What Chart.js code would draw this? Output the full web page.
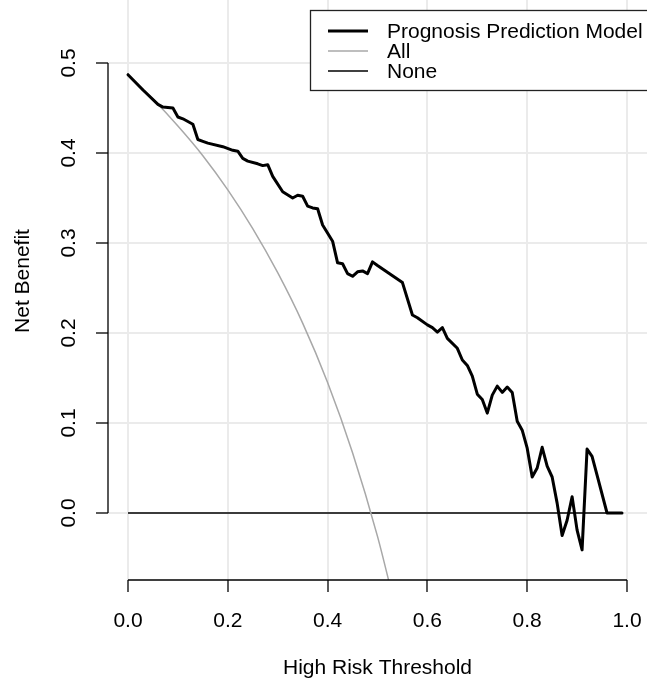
<!DOCTYPE html>
<html>
<head>
<meta charset="utf-8">
<script src="https://cdn.jsdelivr.net/npm/chart.js@4/dist/chart.umd.min.js"></script>
<style>
  html, body { margin: 0; padding: 0; background: #fff; overflow: hidden; }
  /* the R plot region starts a little above the picture */
  #dca { display: block; margin-top: -18px; }
</style>
</head>
<body>
<canvas id="dca" width="647" height="697"></canvas>
<script>
// decision curve, values
const modelThresholds = [0, 0.03, 0.06, 0.07, 0.09, 0.10, 0.11, 0.13, 0.14, 0.15,
    0.16, 0.19, 0.21, 0.22, 0.23, 0.24, 0.26, 0.27, 0.28, 0.29,
    0.31, 0.33, 0.34, 0.35, 0.36, 0.37, 0.38, 0.39, 0.41, 0.42,
    0.43, 0.44, 0.45, 0.46, 0.47, 0.48, 0.49, 0.50, 0.55, 0.57,
    0.58, 0.60, 0.61, 0.62, 0.63, 0.64, 0.66, 0.67, 0.68, 0.69,
    0.70, 0.71, 0.72, 0.73, 0.74, 0.75, 0.76, 0.77, 0.78, 0.79,
    0.80, 0.81, 0.82, 0.83, 0.84, 0.85, 0.86, 0.87, 0.88, 0.89,
    0.90, 0.91, 0.92, 0.93, 0.94, 0.96, 0.99];
const modelBenefit = [0.487, 0.470, 0.454, 0.451, 0.450, 0.440, 0.438, 0.432, 0.415, 0.413,
    0.411, 0.407, 0.403, 0.402, 0.394, 0.391, 0.388, 0.386, 0.387, 0.374,
    0.357, 0.350, 0.353, 0.352, 0.341, 0.339, 0.338, 0.320, 0.302, 0.278,
    0.277, 0.266, 0.263, 0.268, 0.269, 0.266, 0.279, 0.275, 0.256, 0.220,
    0.217, 0.209, 0.206, 0.201, 0.206, 0.194, 0.183, 0.170, 0.164, 0.152,
    0.132, 0.126, 0.111, 0.131, 0.141, 0.134, 0.140, 0.134, 0.102, 0.092,
    0.072, 0.040, 0.050, 0.073, 0.052, 0.040, 0.011, -0.025, -0.008, 0.018,
    -0.019, -0.041, 0.071, 0.063, 0.042, 0.000, 0.000];

const allThresholds = [0, 0.05, 0.10, 0.15, 0.20, 0.25, 0.30, 0.35, 0.40, 0.45, 0.50, 0.53];
const allBenefit = [0.487, 0.460, 0.430, 0.397, 0.359, 0.316, 0.267, 0.211, 0.145, 0.067, -0.026, -0.092];

const noneThresholds = [0, 0.99];
const noneBenefit = [0, 0];

const xTicks = [0, 0.2, 0.4, 0.6, 0.8, 1.0];
const yTicks = [0, 0.1, 0.2, 0.3, 0.4, 0.5];

const FONT = "'Liberation Sans', Arial, Helvetica, sans-serif";

function toPoints(xs, ys) {
    return xs.map((x, i) => ({ x: x, y: ys[i] }));
}

// no extra room for overflowing tick labels, the plot fills the canvas like R does
function noLabelPadding(s) {
    s.paddingTop = 0;
    s.paddingBottom = 0;
    s.paddingLeft = 0;
    s.paddingRight = 0;
}

// R style axis lines, only over the tick range
const axisLinePlugin = {
    id: 'axisLines',
    afterDraw(chart) {
        const { ctx, scales: { x, y } } = chart;
        ctx.save();
        ctx.strokeStyle = '#000';
        ctx.lineWidth = 1.3;
        ctx.beginPath();
        ctx.moveTo(x.getPixelForValue(xTicks[0]), y.bottom);
        ctx.lineTo(x.getPixelForValue(xTicks[xTicks.length - 1]), y.bottom);
        ctx.moveTo(x.left, y.getPixelForValue(yTicks[0]));
        ctx.lineTo(x.left, y.getPixelForValue(yTicks[yTicks.length - 1]));
        ctx.stroke();
        ctx.restore();
    }
};

// boxed legend in the top right corner
const boxLegendPlugin = {
    id: 'boxLegend',
    afterDraw(chart) {
        const ctx = chart.ctx;
        const left = 310, top = 28;
        ctx.save();
        ctx.fillStyle = '#fff';
        ctx.fillRect(left, top, 400, 81);
        ctx.strokeStyle = '#222';
        ctx.lineWidth = 1.3;
        ctx.strokeRect(left + 0.5, top + 0.5, 400, 80);
        ctx.font = '21px ' + FONT;
        ctx.textBaseline = 'middle';
        ctx.textAlign = 'left';
        chart.data.datasets.forEach((ds, i) => {
            const ly = top + 21 + i * 20;
            ctx.strokeStyle = ds.borderColor;
            ctx.lineWidth = ds.borderWidth;
            ctx.beginPath();
            ctx.moveTo(328, ly);
            ctx.lineTo(368, ly);
            ctx.stroke();
            ctx.fillStyle = '#000';
            ctx.fillText(ds.label, 387, ly + 1);
        });
        ctx.restore();
    }
};

new Chart(document.getElementById('dca'), {
    type: 'line',
    plugins: [axisLinePlugin, boxLegendPlugin],
    data: {
        datasets: [{
            label: 'Prognosis Prediction Model',
            data: toPoints(modelThresholds, modelBenefit),
            borderColor: '#000',
            borderWidth: 3,
            pointRadius: 0,
            borderJoinStyle: 'round',
            borderCapStyle: 'round'
        }, {
            label: 'All',
            data: toPoints(allThresholds, allBenefit),
            borderColor: '#a8a8a8',
            borderWidth: 1.5,
            pointRadius: 0,
            cubicInterpolationMode: 'monotone'
        }, {
            label: 'None',
            data: toPoints(noneThresholds, noneBenefit),
            borderColor: '#000',
            borderWidth: 1.5,
            pointRadius: 0
        }]
    },
    options: {
        responsive: false,
        animation: false,
        events: [],
        layout: {
            padding: 0
        },
        plugins: {
            legend: { display: false },
            tooltip: { enabled: false }
        },
        scales: {
            x: {
                type: 'linear',
                min: -0.0401,
                max: 1.0401,
                afterBuildTicks: s => { s.ticks = xTicks.map(v => ({ value: v })); },
                afterFit: s => { s.height = 99; noLabelPadding(s); },
                border: { display: false },
                grid: {
                    color: '#ebebeb',
                    lineWidth: 2,
                    tickColor: '#000',
                    tickWidth: 1.3,
                    tickLength: 12
                },
                ticks: {
                    color: '#000',
                    padding: 17,
                    maxRotation: 0,
                    font: { family: FONT, size: 21 },
                    callback: v => v.toFixed(1)
                },
                title: {
                    display: true,
                    text: 'High Risk Threshold',
                    color: '#000',
                    padding: { top: 0, bottom: 0 },
                    font: { family: FONT, size: 21, lineHeight: 1 }
                }
            },
            y: {
                type: 'linear',
                min: -0.07444,
                max: 0.59,
                afterBuildTicks: s => { s.ticks = yTicks.map(v => ({ value: v })); },
                afterFit: s => { s.width = 108; noLabelPadding(s); },
                border: { display: false },
                grid: {
                    color: '#ebebeb',
                    lineWidth: 2,
                    tickColor: '#000',
                    tickWidth: 1.3,
                    tickLength: 12
                },
                ticks: {
                    color: '#000',
                    padding: 12,
                    minRotation: 90,
                    maxRotation: 90,
                    crossAlign: 'center',
                    font: { family: FONT, size: 21 },
                    callback: v => v.toFixed(1)
                },
                title: {
                    display: true,
                    text: 'Net Benefit',
                    color: '#000',
                    padding: { top: 13, bottom: 0 },
                    font: { family: FONT, size: 21, lineHeight: 1 }
                }
            }
        }
    }
});
</script>
</body>
</html>
